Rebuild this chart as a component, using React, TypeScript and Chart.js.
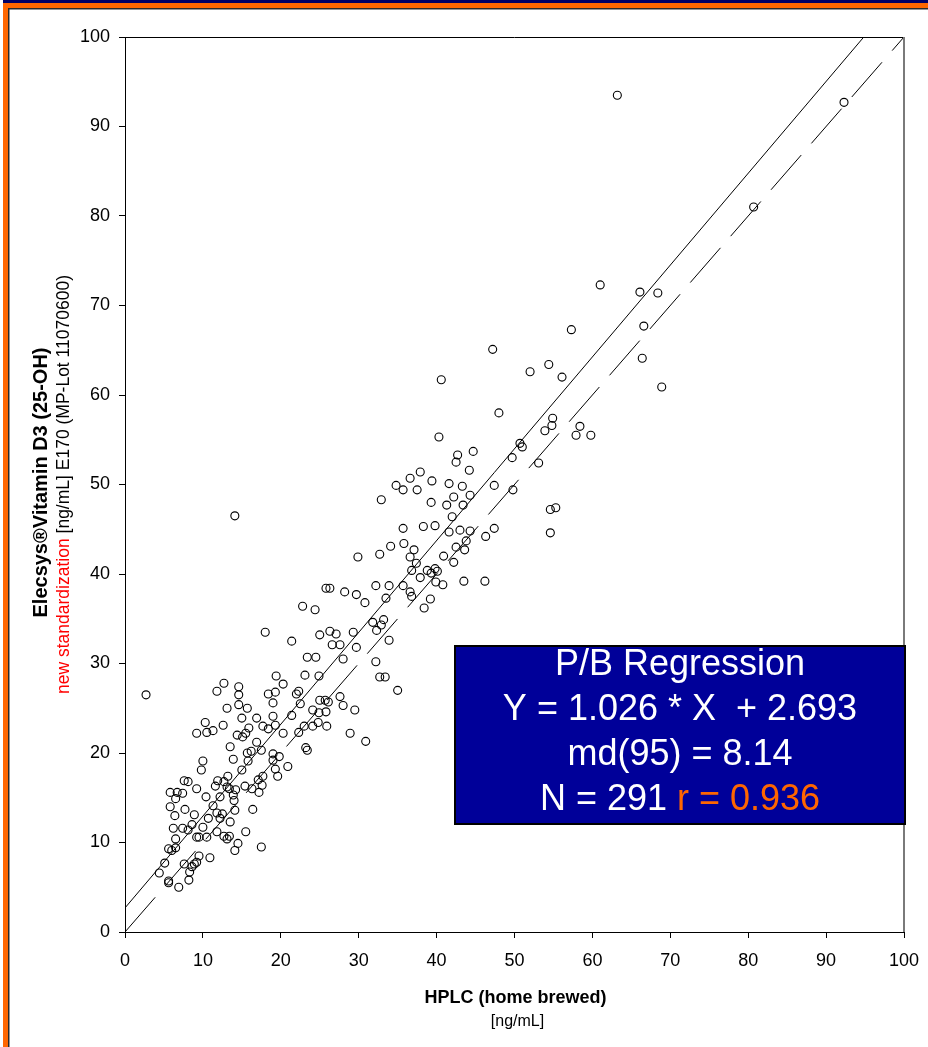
import React, { useEffect, useRef } from "react";
import { Chart, registerables } from "chart.js";

Chart.register(...registerables);

// HPLC (home brewed) [ng/mL]
const hplc: number[] = [
  63.2, 92.3, 80.7, 61.0, 66.1, 68.4, 57.3, 66.6, 52.0, 54.4, 56.1, 66.4, 68.9, 48.0, 54.9, 54.8, 53.9, 58.4, 57.9, 59.8, 50.7, 51.0,
  40.6, 40.3, 47.2, 42.7, 42.5, 44.7, 44.2, 49.7, 53.1, 37.9, 36.6, 34.8, 35.7, 37.5, 39.4, 41.6, 43.3, 42.2, 44.3, 41.3, 43.4, 39.3,
  32.9, 47.4, 49.8, 42.0, 35.7, 38.3, 39.8, 41.6, 43.0, 44.3, 47.4, 46.3, 54.6, 54.6, 55.3, 34.1, 35.8, 37.1, 43.8, 42.5, 43.6, 29.9,
  32.7, 36.6, 37.4, 40.9, 42.2, 36.8, 38.8, 39.3, 39.8, 40.1, 37.9, 39.9, 40.8, 43.5, 46.2, 25.8, 26.3, 28.2, 29.7, 30.8, 32.2, 33.9,
  35.7, 33.5, 36.6, 36.8, 39.2, 38.4, 22.8, 24.4, 14.1, 18.0, 21.4, 25.0, 23.4, 24.5, 23.1, 24.9, 19.4, 20.3, 12.7, 11.8, 14.6, 14.6,
  18.4, 19.3, 22.0, 22.3, 2.7,
  13.1, 14.6, 15.7, 19.0, 22.5, 24.1, 25.0, 26.1, 24.9, 25.8, 21.4, 19.0, 15.0, 16.9, 17.7, 18.4, 19.3, 15.9, 15.5, 12.6, 10.3, 9.2,
  10.5, 11.3, 14.4, 15.1, 16.9, 20.3, 22.3, 23.0, 24.1, 24.8, 25.9, 23.4, 13.5, 17.5, 16.2, 15.7, 13.9, 15.8, 15.0, 10.0, 9.8, 9.2,
  7.6, 8.1, 5.8, 6.7, 7.4, 6.5, 5.8, 6.4, 7.7, 8.9, 6.2, 7.4, 8.1, 8.6, 10.0, 9.2, 9.5, 6.5, 5.6, 6.0, 6.5, 5.1, 4.4, 5.6, 5.6, 6.9,
  7.6, 8.2, 8.3, 8.9, 9.2, 9.5, 10.9, 10.4, 11.3, 11.9, 11.6, 12.7, 13.2, 13.1, 13.4, 10.7, 11.8, 12.2, 12.5, 13.5, 11.8, 12.7, 13.4,
  13.1, 14.5, 14.1, 15.5, 16.4, 17.5, 14.2, 13.9, 14.0, 14.1, 15.4, 16.3, 17.1, 17.6, 17.2, 17.7, 19.3, 19.6, 19.0, 19.0, 19.8, 20.9,
  12.2, 10.5, 8.6,
  26.3, 27.1, 26.6, 27.6, 29.3, 29.7, 31.8, 32.9, 33.2, 32.3, 33.9, 28.0, 32.2, 33.4, 32.7, 35.0, 27.6, 28.0, 29.5, 25.7, 28.9, 30.9,
  23.2,
];

// Elecsys Vitamin D3 (25-OH) [ng/mL]
const elecsys: number[] = [
  93.5, 92.7, 81.0, 72.3, 71.5, 71.4, 67.3, 67.7, 62.6, 63.4, 62.0, 64.1, 60.9, 58.0, 57.4, 56.6, 56.0, 56.5, 55.5, 55.5, 54.6, 54.2,
  61.7, 55.3, 65.1, 53.3, 52.5, 53.7, 51.6, 53.0, 52.4, 51.4, 50.7, 49.9, 49.4, 49.4, 50.4, 50.1, 49.8, 48.6, 48.8, 47.7, 47.7, 48.0,
  48.3, 49.9, 49.4, 46.4, 45.1, 45.3, 45.4, 44.7, 44.9, 44.8, 45.1, 44.2, 44.6, 47.2, 47.4, 43.1, 43.4, 42.7, 43.7, 43.0, 42.7, 41.9,
  42.2, 41.9, 41.2, 42.0, 41.3, 40.4, 40.4, 40.1, 40.6, 40.3, 39.6, 39.1, 38.8, 39.2, 39.2, 38.4, 38.4, 38.0, 37.7, 36.8, 38.7, 38.7,
  38.7, 37.3, 38.0, 37.5, 37.2, 36.2, 36.4, 36.0, 46.5, 33.5, 32.5, 33.2, 30.7, 30.7, 28.7, 28.6, 28.6, 27.7, 27.8, 26.9, 27.4, 26.5,
  26.6, 26.8, 26.6, 26.9, 26.5,
  25.0, 25.4, 25.0, 25.6, 25.5, 24.8, 25.9, 25.7, 24.5, 24.6, 24.2, 24.1, 23.9, 23.9, 23.0, 22.7, 23.1, 22.8, 22.2, 23.1, 23.4, 22.2,
  22.3, 22.5, 22.0, 21.8, 21.2, 22.2, 22.3, 23.0, 23.0, 23.4, 23.0, 20.3, 20.7, 20.3, 20.2, 20.0, 19.3, 19.1, 18.1, 19.1, 18.1, 16.0,
  16.9, 16.8, 15.6, 15.6, 15.5, 14.9, 14.0, 13.0, 13.7, 13.1, 11.6, 11.6, 11.4, 12.0, 11.7, 10.6, 10.6, 10.4, 9.3, 9.1, 9.4, 7.7, 6.6,
  5.7, 5.5, 5.0,
  7.6, 5.8, 6.7, 7.6, 7.8, 8.5, 8.3, 15.1, 14.1, 16.9, 16.3, 16.8, 17.4, 16.2, 16.0, 12.7, 13.3, 12.7, 13.2, 12.3, 11.2, 10.7, 10.7,
  10.4, 9.9, 9.1, 11.2, 13.7, 9.5, 15.9, 15.3, 14.7, 13.6, 16.3, 16.0, 17.0, 16.4, 15.6, 17.4, 18.2, 17.4, 19.2, 19.9, 19.6, 18.5,
  15.1, 10.6, 7.3,
  33.6, 33.3, 32.1, 32.1, 33.5, 31.8, 34.6, 34.3, 34.9, 33.7, 32.6, 30.5, 30.2, 28.5, 28.5, 27.0, 26.3, 25.3, 24.8, 25.9, 22.2, 21.3,
  20.6,
];

const axisTicks: number[] = [0, 10, 20, 30, 40, 50, 60, 70, 80, 90, 100];
const slope = 1.026;
const intercept = 2.693;
const md95 = 8.14;
const nSamples = 291;
const rValue = 0.936;

const xTitle = "HPLC (home brewed)";
const xUnit = "[ng/mL]";
const yTitle = "Elecsys®Vitamin D3 (25-OH)";
const ySubRed = "new standardization";
const ySubBlack = " [ng/mL] E170 (MP-Lot 11070600)";

const FONT = '"Liberation Sans", Arial, Helvetica, sans-serif';
const ORANGE = "#FF6600";
const NAVY = "#000066";
const BOX = "#000099";

const decorPlugin = {
  id: "decor",
  beforeDraw(chart: any) {
    const ctx = chart.ctx;
    const W = chart.width;
    const H = chart.height;
    ctx.save();
    ctx.fillStyle = "#ffffff";
    ctx.fillRect(0, 0, W, H);
    ctx.fillStyle = NAVY;
    ctx.fillRect(3, 0, W - 3, 3);
    ctx.fillStyle = ORANGE;
    ctx.fillRect(3, 3, W - 3, 5);
    ctx.fillRect(3, 3, 5, H - 3);
    ctx.fillStyle = "#2a2a2a";
    ctx.fillRect(8, 8, W - 8, 1.5);
    ctx.fillRect(8, 8, 1.5, H - 8);
    ctx.restore();
  },
  afterDraw(chart: any) {
    const ctx = chart.ctx;
    const a = chart.chartArea;
    ctx.save();
    ctx.strokeStyle = "#000";
    ctx.lineWidth = 1;
    ctx.beginPath();
    ctx.moveTo(a.left, a.top + 0.5);
    ctx.lineTo(a.right, a.top + 0.5);
    ctx.stroke();
    ctx.strokeStyle = "#7a7a7a";
    ctx.lineWidth = 2;
    ctx.beginPath();
    ctx.moveTo(a.right, a.top);
    ctx.lineTo(a.right, a.bottom);
    ctx.stroke();

    const cx = (a.left + a.right) / 2;
    const cy = (a.top + a.bottom) / 2;

    ctx.fillStyle = "#000";
    ctx.textAlign = "center";
    ctx.textBaseline = "alphabetic";
    ctx.font = `bold 18px ${FONT}`;
    ctx.fillText(xTitle, cx + 1, 1003);
    ctx.font = `16px ${FONT}`;
    ctx.fillText(xUnit, cx + 3, 1026);

    ctx.save();
    ctx.translate(47, cy - 2);
    ctx.rotate(-Math.PI / 2);
    ctx.font = `bold 20px ${FONT}`;
    ctx.textAlign = "center";
    ctx.fillText(yTitle, 0, 0);
    ctx.restore();

    ctx.save();
    ctx.translate(69, cy);
    ctx.rotate(-Math.PI / 2);
    ctx.font = `17.5px ${FONT}`;
    ctx.textAlign = "left";
    const wr = ctx.measureText(ySubRed).width;
    const wb = ctx.measureText(ySubBlack).width;
    const start = -(wr + wb) / 2;
    ctx.fillStyle = "#FF0000";
    ctx.fillText(ySubRed, start, 0);
    ctx.fillStyle = "#000";
    ctx.fillText(ySubBlack, start + wr, 0);
    ctx.restore();

    const bx = 455, by = 646, bw = 450, bh = 178;
    ctx.fillStyle = BOX;
    ctx.fillRect(bx, by, bw, bh);
    ctx.strokeStyle = "#000";
    ctx.lineWidth = 2;
    ctx.strokeRect(bx, by, bw, bh);
    const tx = bx + bw / 2;
    ctx.font = `36px ${FONT}`;
    ctx.fillStyle = "#ffffff";
    ctx.textAlign = "center";
    ctx.fillText("P/B Regression", tx, 675);
    ctx.fillText(`Y = ${slope.toFixed(3)} * X  + ${intercept.toFixed(3)}`, tx, 720);
    ctx.fillText(`md(95) = ${md95.toFixed(2)}`, tx, 765);
    const p1 = `N = ${nSamples} `;
    const p2 = `r = ${rValue.toFixed(3)}`;
    const w1 = ctx.measureText(p1).width;
    const w2 = ctx.measureText(p2).width;
    ctx.textAlign = "left";
    const s = tx - (w1 + w2) / 2;
    ctx.fillText(p1, s, 810);
    ctx.fillStyle = ORANGE;
    ctx.fillText(p2, s + w1, 810);
    ctx.restore();
  },
};

export default function App() {
  const ref = useRef<HTMLCanvasElement | null>(null);

  useEffect(() => {
    if (!ref.current) return;
    const points = hplc.map((x, i) => ({ x, y: elecsys[i] }));
    const regEndX = (100 - intercept) / slope;
    const tickFont = { family: FONT, size: 18 };
    const chart = new Chart(ref.current, {
      type: "scatter",
      data: {
        datasets: [
          {
            label: "Samples",
            data: points,
            pointRadius: 4,
            pointHoverRadius: 4,
            pointBorderWidth: 1.1,
            pointBorderColor: "#000",
            pointBackgroundColor: "rgba(0,0,0,0)",
            showLine: false,
          },
          {
            label: "Passing-Bablok",
            data: [
              { x: 0, y: intercept },
              { x: regEndX, y: 100 },
            ],
            showLine: true,
            borderColor: "#000",
            borderWidth: 1,
            pointRadius: 0,
            fill: false,
          },
          {
            label: "Identity",
            data: [
              { x: 0, y: 0 },
              { x: 100, y: 100 },
            ],
            showLine: true,
            borderColor: "#000",
            borderWidth: 1,
            borderDash: [46, 15.5],
            pointRadius: 0,
            fill: false,
          },
        ],
      },
      options: {
        responsive: false,
        animation: false,
        devicePixelRatio: 1,
        layout: { padding: { left: 0, right: 24, top: 37, bottom: 0 } },
        plugins: {
          legend: { display: false },
          tooltip: { enabled: false },
          title: { display: false },
        },
        scales: {
          x: {
            type: "linear",
            min: 0,
            max: 100,
            afterBuildTicks: (scale: any) => {
              scale.ticks = axisTicks.map((v) => ({ value: v }));
            },
            afterFit: (scale: any) => {
              scale.height = 115;
              scale.paddingLeft = 0;
              scale.paddingRight = 0;
            },
            ticks: { color: "#000", font: tickFont, padding: 12, maxRotation: 0, autoSkip: false },
            grid: { drawOnChartArea: false, drawTicks: true, tickLength: 6, color: "#000", lineWidth: 1 },
            border: { display: true, color: "#000", width: 1 },
          },
          y: {
            type: "linear",
            min: 0,
            max: 100,
            afterBuildTicks: (scale: any) => {
              scale.ticks = axisTicks.map((v) => ({ value: v }));
            },
            afterFit: (scale: any) => {
              scale.width = 125;
              scale.paddingTop = 0;
              scale.paddingBottom = 0;
            },
            ticks: { color: "#000", font: tickFont, padding: 9, autoSkip: false },
            grid: { drawOnChartArea: false, drawTicks: true, tickLength: 6, color: "#000", lineWidth: 1 },
            border: { display: true, color: "#000", width: 1 },
          },
        },
      },
      plugins: [decorPlugin],
    });
    return () => chart.destroy();
  }, []);

  return (
    <div style={{ position: "fixed", left: 0, top: 0, width: 928, height: 1047, background: "#fff" }}>
      <canvas ref={ref} width={928} height={1047} style={{ display: "block", width: 928, height: 1047 }} />
    </div>
  );
}
